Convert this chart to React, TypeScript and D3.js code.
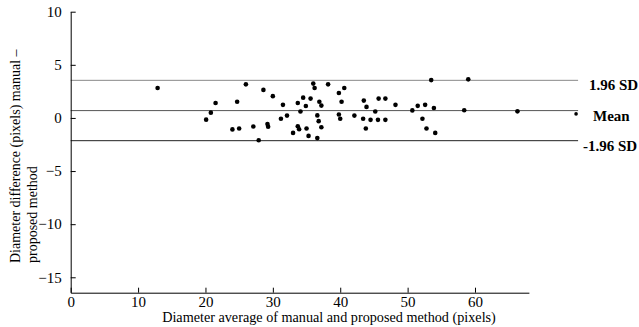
import { useRef, useEffect } from "react";
import { select, scaleLinear, axisBottom, axisLeft } from "d3";

// Bland-Altman points: [average, difference]
const avgValues = [
  12.9, 26.0, 21.5, 24.7, 20.8, 20.1, 24.0, 25.0, 27.1, 27.9,
  28.6, 30.0, 31.5, 32.1, 31.2, 29.2, 29.3, 33.0, 33.7, 33.9,
  35.0, 35.3, 36.6, 37.2, 36.8, 36.6, 34.1, 33.7, 34.5, 34.9,
  35.6, 36.0, 36.2, 36.9, 37.2, 38.2, 39.8, 40.6, 40.2, 39.8,
  40.0, 42.1, 43.5, 43.9, 45.2, 43.4, 44.5, 43.8, 45.6, 46.7,
  45.7, 46.7, 48.2, 50.7, 51.5, 52.6, 53.9, 52.2, 52.8, 54.1,
  53.5, 59.0, 58.4, 66.3, 75.0,
];
const diffValues = [
  2.82, 3.16, 1.41, 1.53, 0.5, -0.16, -1.08, -0.99, -0.8, -2.1,
  2.64, 2.05, 1.23, 0.22, -0.08, -0.58, -0.82, -1.41, -0.79, -1.07,
  -0.99, -1.69, -1.9, -0.88, -0.3, 0.24, 0.61, 1.41, 1.91, 1.13,
  1.82, 3.23, 2.82, 1.52, 1.16, 3.16, 2.35, 2.82, 1.52, 0.33,
  -0.08, 0.22, 1.63, 1.04, 0.61, -0.07, -0.18, -0.99, -0.18, -0.18,
  1.82, 1.82, 1.23, 0.71, 1.14, 1.23, 0.94, -0.07, -0.99, -1.41,
  3.56, 3.63, 0.72, 0.62, 0.38,
];

const limitNames = ["1.96 SD", "Mean", "-1.96 SD"];
const limitValues = [3.54, 0.69, -2.14];
const limitColors = ["#8a8a8a", "#555", "#222"];
const limitLabelX = [589, 593, 583];

const yTicks = [-15, -10, -5, 0, 5, 10];
const xTicks = [0, 10, 20, 30, 40, 50, 60];

const font = "'Liberation Serif', 'Times New Roman', serif";

export default function App() {
  const svgRef = useRef<SVGSVGElement | null>(null);
  const width = 639;
  const height = 327;

  useEffect(() => {
    if (!svgRef.current) return;
    const svg = select(svgRef.current);
    svg.selectAll("*").remove();

    const x = scaleLinear().domain([0, 68]).range([70.7, 528.9]);
    const y = scaleLinear().domain([-16.45, 10]).range([292.7, 11.7]);

    // limit lines + labels (labels sit just under each line)
    limitValues.forEach((v, i) => {
      svg
        .append("line")
        .attr("x1", x(0))
        .attr("x2", x(75.3))
        .attr("y1", y(v))
        .attr("y2", y(v))
        .attr("stroke", limitColors[i])
        .attr("stroke-width", 1);
      svg
        .append("text")
        .attr("x", limitLabelX[i])
        .attr("y", y(v) + 10)
        .attr("font-family", font)
        .attr("font-size", 15)
        .attr("font-weight", "bold")
        .attr("fill", "#000")
        .text(limitNames[i]);
    });

    // x axis
    svg
      .append("g")
      .attr("transform", `translate(0, ${y(-16.45)})`)
      .call(axisBottom(x).tickValues(xTicks).tickSize(-5).tickSizeOuter(0).tickPadding(4))
      .call((g) => g.selectAll("text").attr("font-family", font).attr("font-size", 15).attr("fill", "#000"))
      .call((g) => g.selectAll("line, path").attr("stroke", "#000"));

    // y axis
    svg
      .append("g")
      .attr("transform", `translate(${x(0)}, 0)`)
      .call(axisLeft(y).tickValues(yTicks).tickSize(-5).tickSizeOuter(0).tickPadding(9))
      .call((g) => g.selectAll("text").attr("font-family", font).attr("font-size", 15).attr("fill", "#000"))
      .call((g) => g.selectAll("line, path").attr("stroke", "#000"));

    // points
    svg
      .append("g")
      .selectAll("circle")
      .data(avgValues.map((a, i) => [a, diffValues[i]]))
      .join("circle")
      .attr("cx", (d) => x(d[0]))
      .attr("cy", (d) => y(d[1]))
      .attr("r", (d) => (d[0] > 70 ? 1.8 : 2.3))
      .attr("fill", "#000");

    // axis titles
    svg
      .append("text")
      .attr("x", 329)
      .attr("y", 322)
      .attr("text-anchor", "middle")
      .attr("font-family", font)
      .attr("font-size", 14.2)
      .text("Diameter average of manual and proposed method (pixels)");

    const yTitle = svg
      .append("text")
      .attr("transform", "translate(20, 263) rotate(-90)")
      .attr("font-family", font)
      .attr("font-size", 14);
    yTitle.append("tspan").attr("x", 0).attr("y", 0).text("Diameter difference (pixels) manual –");
    yTitle.append("tspan").attr("x", 0).attr("y", 17).text("proposed method");
  }, []);

  return (
    <svg
      ref={svgRef}
      width={width}
      height={height}
      viewBox={`0 0 ${width} ${height}`}
      style={{ position: "absolute", left: 0, top: 0, background: "#fff" }}
    ></svg>
  );
}
